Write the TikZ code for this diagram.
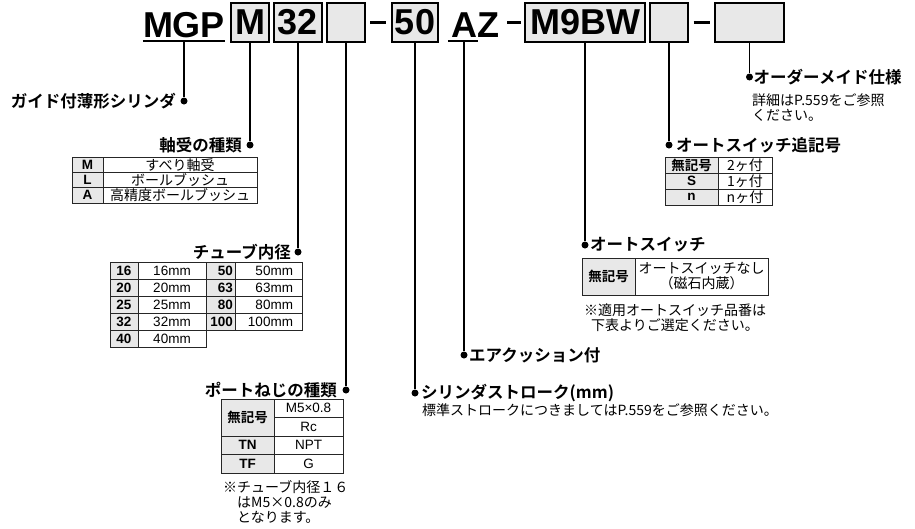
\documentclass[tikz,border=0pt]{standalone}
\usepackage{fontspec}
\setmainfont{Liberation Sans}
\newfontfamily\jpfont{Noto Sans CJK JP}
\newfontfamily\jpbfont{Noto Sans CJK JP Bold}
\usepackage{tikz}
\usepackage{xcolor}
\usetikzlibrary{positioning}

\definecolor{boxgray}{RGB}{232,232,232}
\newcommand\hdrfont{\fontsize{36}{36}\selectfont\bfseries}
\newcommand\ttlfont{\jpbfont\fontsize{16.5}{18}\selectfont}
\newcommand\smlfont{\jpfont\fontsize{14}{15}\selectfont}
\newcommand\latfont{\fontsize{13.5}{15}\selectfont}
\newcommand\keyfont{\fontsize{13.5}{15}\selectfont\bfseries}
\newcommand\jkeyfont{\jpbfont\fontsize{13.5}{15}\selectfont}

\begin{document}
\begin{tikzpicture}[
  x=1pt, y=-1pt,
  hbox/.style={draw, line width=1.4pt, fill=boxgray, minimum height=39pt, inner sep=0pt, font=\hdrfont},
  hdr/.style={inner sep=0pt, font=\hdrfont},
  hyph/.style={inner sep=0pt},
  jdot/.style={circle, fill, inner sep=0pt, minimum size=7pt},
  ttl/.style={inner sep=0pt, font=\ttlfont},
  subtxt/.style={inner sep=0pt, font=\smlfont, align=left},
  kcell/.style={draw=black!85, line width=0.8pt, fill=boxgray, inner sep=0pt, font=\keyfont},
  jkcell/.style={kcell, font=\jkeyfont},
  vcell/.style={draw=black!85, line width=0.8pt, inner sep=0pt, font=\latfont},
  jvcell/.style={vcell, font=\smlfont},
  lead/.style={line width=1.2pt}
]
  \useasboundingbox (0,0) rectangle (915,528);

  %--- Header ---
  \node[hdr, anchor=base] (mgp) at (184,37) {MGP};
  \draw[line width=2pt] ([yshift=-4pt]mgp.base west) -- ([yshift=-4pt]mgp.base east);
  \node[hbox, minimum width=38pt] (bm)   at (250,22.5) {M};
  \node[hbox, minimum width=48pt] (b32)  at (298,22.5) {32};
  \node[hbox, minimum width=38pt] (bport) at (346,22.5) {};
  \node[hyph] (dash1) at (378,22) {\rule{16pt}{3pt}};
  \node[hbox, minimum width=46pt] (b50)  at (415,22.5) {50};
  \node[hdr, anchor=base] (aza) at (464,37) {A};
  \node[hdr, anchor=base west] (azz) at (aza.base east) {Z};
  \draw[line width=2pt] ([xshift=-3pt,yshift=-4pt]aza.base west) -- ([xshift=1pt,yshift=-4pt]aza.base east);
  \node[hyph] (dash2) at (514,22) {\rule{14pt}{3pt}};
  \node[hbox, minimum width=120pt] (bsw) at (585,22.5) {M9BW};
  \node[hbox, minimum width=38pt] (bnum) at (669,22.5) {};
  \node[hyph] (dash3) at (701.5,22) {\rule{16pt}{3pt}};
  \node[hbox, minimum width=69pt] (bord) at (749.5,22.5) {};

  %--- Dots ---
  \node[jdot] (p1) at (mgp.south |- 0,101) {};
  \node[jdot] (p2) at (bm.south |- 0,145) {};
  \node[jdot] (p3) at (b32.south |- 0,252) {};
  \node[jdot] (p4) at (bport.south |- 0,390) {};
  \node[jdot] (p5) at (b50.south |- 0,393) {};
  \node[jdot] (p6) at (aza.south |- 0,355) {};
  \node[jdot] (p7) at (bsw.south |- 0,245) {};
  \node[jdot] (p8) at (bnum.south |- 0,145) {};
  \node[jdot] (p9) at (bord.south |- 0,77) {};

  % Leads
  \draw[lead] ([yshift=-4pt]mgp.south) -- (p1);
  \draw[lead] (bm) -- (p2);
  \draw[lead] (b32) -- (p3);
  \draw[lead] (bport) -- (p4);
  \draw[lead] (b50) -- (p5);
  \draw[lead] ([yshift=-4pt]aza.south) -- (p6);
  \draw[lead] (bsw) -- (p7);
  \draw[lead] (bnum) -- (p8);
  \draw[lead] (bord) -- (p9);

  %--- Titles ---
  \node[ttl, anchor=east] (t1) at ([xshift=-8pt]p1.center) {ガイド付薄形シリンダ};
  \node[ttl, anchor=east] (t2) at ([xshift=-8pt]p2.center) {軸受の種類};
  \node[ttl, anchor=east] (t3) at ([xshift=-7pt]p3.center) {チューブ内径};
  \node[ttl, anchor=east] (t4) at ([xshift=-9pt]p4.center) {ポートねじの種類};
  \node[ttl, anchor=west] (t5) at ([xshift=6pt]p5.center) {シリンダストローク(mm)};
  \node[ttl, anchor=west] (t6) at ([xshift=5pt]p6.center) {エアクッション付};
  \node[ttl, anchor=west] (t7) at ([xshift=5pt]p7.center) {オートスイッチ};
  \node[ttl, anchor=west] (t8) at ([xshift=7pt]p8.center) {オートスイッチ追記号};
  \node[ttl, anchor=west] (t9) at ([xshift=4pt]p9.center) {オーダーメイド仕様};

  \node[subtxt, anchor=west] (s5) at (422,410) {標準ストロークにつきましてはP.559をご参照ください。};
  \node[subtxt, anchor=west] (s9) at (752,107.5) {詳細はP.559をご参照\\ください。};

  %--- Bearing table ---
  \node[kcell,  minimum width=31pt,  minimum height=15.3pt] (bk1) at (87.5,164.7) {M};
  \node[jvcell, minimum width=154pt, minimum height=15.3pt] (bv1) at (180,164.7) {すべり軸受};
  \node[kcell,  minimum width=31pt,  minimum height=15.3pt] (bk2) at (87.5,180) {L};
  \node[jvcell, minimum width=154pt, minimum height=15.3pt] (bv2) at (180,180) {ボールブッシュ};
  \node[kcell,  minimum width=31pt,  minimum height=15.3pt] (bk3) at (87.5,195.3) {A};
  \node[jvcell, minimum width=154pt, minimum height=15.3pt] (bv3) at (180,195.3) {高精度ボールブッシュ};

  %--- Bore table ---
  \node[kcell, minimum width=28pt, minimum height=17pt] (tk1) at (124,270.5) {16};
  \node[vcell, minimum width=68pt, minimum height=17pt] (tv1) at (172,270.5) {16mm};
  \node[kcell, minimum width=28pt, minimum height=17pt] (tk2) at (124,287.5) {20};
  \node[vcell, minimum width=68pt, minimum height=17pt] (tv2) at (172,287.5) {20mm};
  \node[kcell, minimum width=28pt, minimum height=17pt] (tk3) at (124,304.5) {25};
  \node[vcell, minimum width=68pt, minimum height=17pt] (tv3) at (172,304.5) {25mm};
  \node[kcell, minimum width=28pt, minimum height=17pt] (tk4) at (124,321.5) {32};
  \node[vcell, minimum width=68pt, minimum height=17pt] (tv4) at (172,321.5) {32mm};
  \node[kcell, minimum width=28pt, minimum height=17pt] (tk5) at (124,338.5) {40};
  \node[vcell, minimum width=68pt, minimum height=17pt] (tv5) at (172,338.5) {40mm};
  \node[kcell, minimum width=29pt, minimum height=17pt, text width=25pt, align=right] (tk6) at (220.5,270.5) {50};
  \node[vcell, minimum width=67pt, minimum height=17pt, text width=49pt, align=right] (tv6) at (268.5,270.5) {50mm};
  \node[kcell, minimum width=29pt, minimum height=17pt, text width=25pt, align=right] (tk7) at (220.5,287.5) {63};
  \node[vcell, minimum width=67pt, minimum height=17pt, text width=49pt, align=right] (tv7) at (268.5,287.5) {63mm};
  \node[kcell, minimum width=29pt, minimum height=17pt, text width=25pt, align=right] (tk8) at (220.5,304.5) {80};
  \node[vcell, minimum width=67pt, minimum height=17pt, text width=49pt, align=right] (tv8) at (268.5,304.5) {80mm};
  \node[kcell, minimum width=29pt, minimum height=17pt, text width=25pt, align=right] (tk9) at (220.5,321.5) {100};
  \node[vcell, minimum width=67pt, minimum height=17pt, text width=49pt, align=right] (tv9) at (268.5,321.5) {100mm};

  %--- Port table ---
  \node[jkcell, minimum width=53pt, minimum height=37pt]   (pk1) at (247.5,417.5) {無記号};
  \node[vcell,  minimum width=69pt, minimum height=18.5pt] (pv1) at (308.5,408.25) {M5×0.8};
  \node[vcell,  minimum width=69pt, minimum height=18.5pt] (pv2) at (308.5,426.75) {Rc};
  \node[kcell,  minimum width=53pt, minimum height=18.5pt] (pk3) at (247.5,445.25) {TN};
  \node[vcell,  minimum width=69pt, minimum height=18.5pt] (pv3) at (308.5,445.25) {NPT};
  \node[kcell,  minimum width=53pt, minimum height=18.5pt] (pk4) at (247.5,463.75) {TF};
  \node[vcell,  minimum width=69pt, minimum height=18.5pt] (pv4) at (308.5,463.75) {G};
  \node[subtxt, anchor=north west] (pnote) at (223,480) {※チューブ内径１６\\\phantom{※}はM5×0.8のみ\\\phantom{※}となります。};

  %--- Switch table ---
  \node[jkcell, minimum width=53pt,  minimum height=37pt] (sk1) at (608.5,276.5) {無記号};
  \node[jvcell, minimum width=133pt, minimum height=37pt, align=center] (sv1) at (701.5,276.5) {オートスイッチなし\\（磁石内蔵）};
  \node[subtxt, align=center] (snote) at (675,317.5) {※適用オートスイッチ品番は\\下表よりご選定ください。};

  %--- Number of switches table ---
  \node[jkcell, minimum width=53pt, minimum height=16pt] (nk1) at (691.5,165) {無記号};
  \node[jvcell, minimum width=54pt, minimum height=16pt] (nv1) at (745,165) {2ヶ付};
  \node[kcell,  minimum width=53pt, minimum height=16pt] (nk2) at (691.5,181) {S};
  \node[jvcell, minimum width=54pt, minimum height=16pt] (nv2) at (745,181) {1ヶ付};
  \node[kcell,  minimum width=53pt, minimum height=16pt] (nk3) at (691.5,197) {n};
  \node[jvcell, minimum width=54pt, minimum height=16pt] (nv3) at (745,197) {nヶ付};
\end{tikzpicture}
\end{document}
